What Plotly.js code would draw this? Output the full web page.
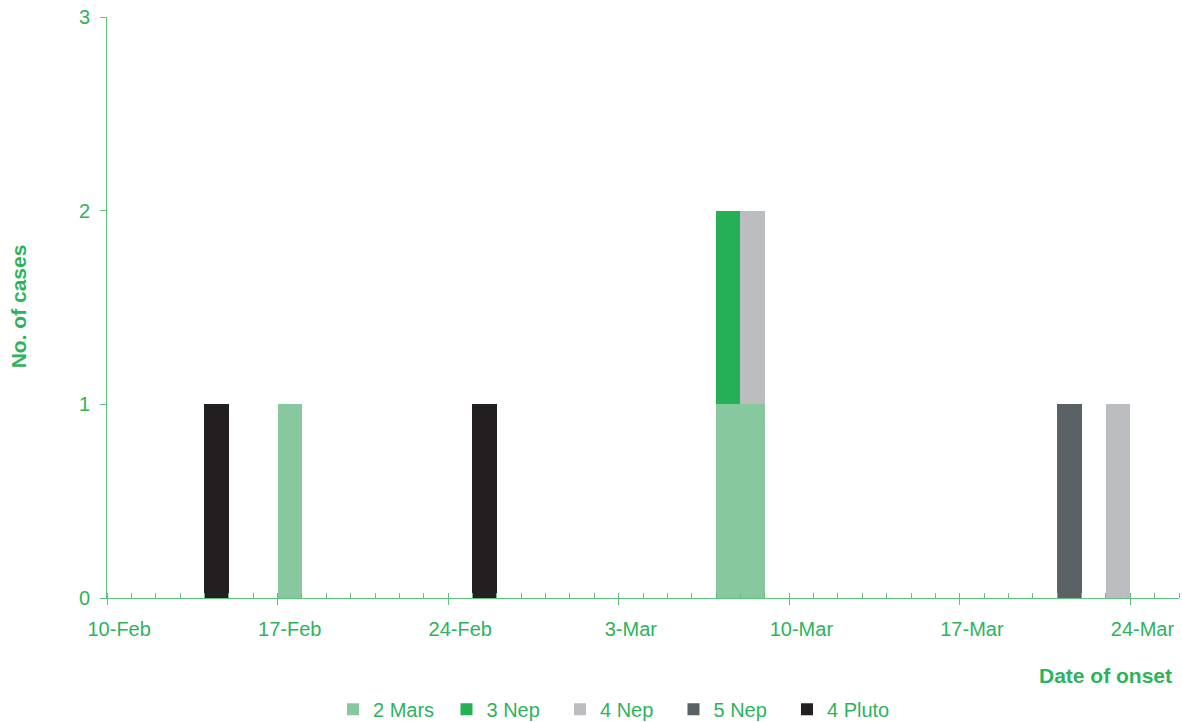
<!DOCTYPE html>
<html>
<head>
<meta charset="utf-8">
<script src="https://cdn.plot.ly/plotly-3.0.1.min.js"></script>
<style>
  html, body { margin: 0; padding: 0; background: #ffffff; }
  #chart { width: 1182px; height: 722px; }
</style>
</head>
<body>
<div id="chart"></div>
<script>
// Cases by date of onset, stacked by group
const marsDates  = ['2009-02-17', '2009-03-07', '2009-03-08'];
const marsCases  = [1, 1, 1];
const nep3Dates  = ['2009-03-07'];
const nep3Cases  = [1];
const nep4Dates  = ['2009-03-08', '2009-03-23'];
const nep4Cases  = [1, 1];
const nep5Dates  = ['2009-03-21'];
const nep5Cases  = [1];
const plutoDates = ['2009-02-14', '2009-02-25'];
const plutoCases = [1, 1];

const tickDates  = ['2009-02-10', '2009-02-17', '2009-02-24', '2009-03-03', '2009-03-10', '2009-03-17', '2009-03-24'];
const tickLabels = ['10-Feb', '17-Feb', '24-Feb', '3-Mar', '10-Mar', '17-Mar', '24-Mar'];
const yTicks     = [0, 1, 2, 3];

const GREEN_TEXT = '#2db35d';
const GREEN_LINE = '#5cc27c';
const FONT = 'Liberation Sans, Arial, sans-serif';
const DAY = 86400000;
const xRange = ['2009-02-09 12:00', '2009-03-25 12:00'];

function barTrace(name, x, y, color) {
  return { type: 'bar', name: name, x: x, y: y, marker: { color: color }, hoverinfo: 'x+y+name' };
}

const traces = [
  barTrace('2 Mars',  marsDates,  marsCases,  '#88c89e'),
  barTrace('3 Nep',   nep3Dates,  nep3Cases,  '#25b057'),
  barTrace('4 Nep',   nep4Dates,  nep4Cases,  '#bcbdc1'),
  barTrace('5 Nep',   nep5Dates,  nep5Cases,  '#5a6164'),
  barTrace('4 Pluto', plutoDates, plutoCases, '#231f20')
];

const layout = {
  width: 1182,
  height: 722,
  margin: { l: 107, r: 3, t: 17, b: 124, autoexpand: false },
  paper_bgcolor: '#ffffff',
  plot_bgcolor: '#ffffff',
  font: { family: FONT, size: 20, color: GREEN_TEXT },
  barmode: 'stack',
  bargap: 0,
  showlegend: true,
  legend: {
    orientation: 'h',
    traceorder: 'normal',
    x: 0.2108, xanchor: 'left',
    y: -0.158, yanchor: 'top',
    entrywidth: 68.5, entrywidthmode: 'pixels',
    font: { family: FONT, size: 20, color: GREEN_TEXT },
    itemclick: false
  },
  xaxis: {
    type: 'date',
    range: xRange,
    automargin: false,
    tickmode: 'array',
    tickvals: tickDates,
    ticktext: tickLabels,
    ticks: '',
    ticklabelstandoff: 13,
    tickfont: { family: FONT, size: 20, color: GREEN_TEXT },
    showline: true, linecolor: GREEN_LINE, linewidth: 1,
    showgrid: false, zeroline: false,
    minor: {
      tick0: '2009-02-09 12:00', dtick: DAY,
      ticks: 'inside', ticklen: 5, tickwidth: 1, tickcolor: GREEN_LINE,
      showgrid: false
    },
    fixedrange: true
  },
  xaxis2: {
    type: 'date',
    overlaying: 'x',
    anchor: 'y',
    side: 'bottom',
    range: xRange,
    automargin: false,
    tick0: '2009-02-09 12:00', dtick: 7 * DAY,
    ticks: 'outside', ticklen: 6, tickwidth: 1, tickcolor: GREEN_LINE,
    showticklabels: false,
    showline: false, showgrid: false, zeroline: false,
    fixedrange: true
  },
  yaxis: {
    range: [0, 3],
    automargin: false,
    tickmode: 'array',
    tickvals: yTicks,
    ticks: 'outside', ticklen: 6, tickwidth: 1, tickcolor: GREEN_LINE,
    ticklabelstandoff: 6,
    tickfont: { family: FONT, size: 20, color: GREEN_TEXT },
    showline: true, linecolor: GREEN_LINE, linewidth: 1,
    showgrid: false, zeroline: false,
    fixedrange: true
  },
  annotations: [
    {
      text: '<b>No. of cases</b>',
      xref: 'paper', yref: 'paper',
      x: -0.083, y: 0.502, xanchor: 'center', yanchor: 'middle',
      textangle: -90, showarrow: false,
      font: { family: FONT, size: 21, color: GREEN_TEXT }
    },
    {
      text: '<b>Date of onset</b>',
      xref: 'paper', yref: 'paper',
      x: 0.9953, y: -0.134, xanchor: 'right', yanchor: 'middle',
      showarrow: false,
      font: { family: FONT, size: 21, color: GREEN_TEXT }
    }
  ]
};

// a hidden trace keeps the overlaying date axis active
traces.push({
  type: 'scatter', x: [xRange[0]], y: [0], xaxis: 'x2', yaxis: 'y',
  mode: 'markers', marker: { opacity: 0 }, showlegend: false, hoverinfo: 'skip'
});

Plotly.newPlot('chart', traces, layout, { displayModeBar: false, staticPlot: true });
</script>
</body>
</html>
